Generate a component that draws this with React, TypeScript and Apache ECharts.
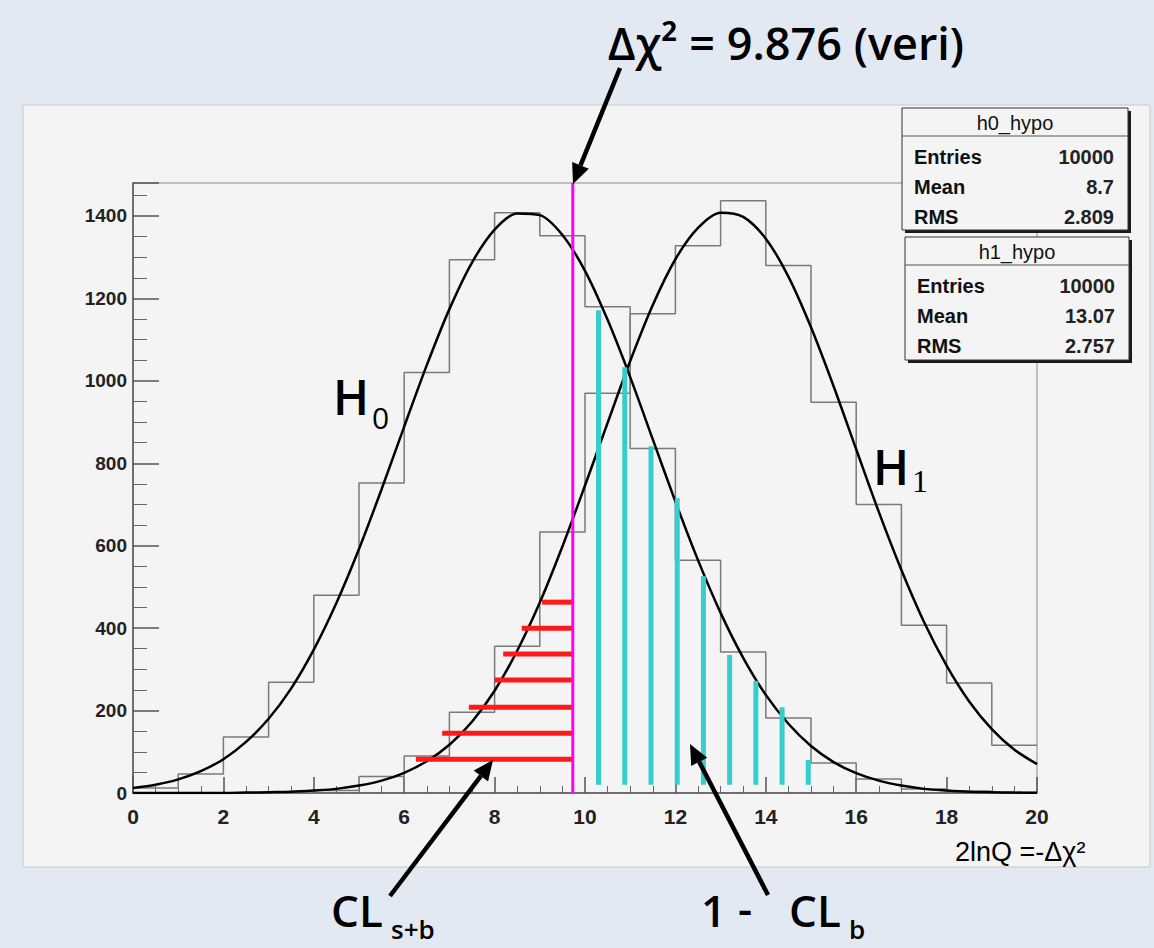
import { useEffect, useRef } from "react";
import * as echarts from "echarts";

// ---- data ----
const BIN_EDGES = [0, 1, 2, 3, 4, 5, 6, 7, 8, 9, 10, 11, 12, 13, 14, 15, 16, 17, 18, 19];
const H0_COUNTS = [12, 46, 136, 269, 480, 752, 1020, 1294, 1408, 1352, 1180, 836, 565, 342, 182, 73, 34, 10, 4, 1];
const H1_COUNTS = [0, 0, 0, 1, 6, 40, 90, 196, 356, 633, 970, 1163, 1328, 1437, 1280, 948, 700, 407, 267, 116];

const FIT_X = [0, 0.5, 1, 1.5, 2, 2.5, 3, 3.5, 4, 4.5, 5, 5.5, 6, 6.5, 7, 7.5, 8, 8.5, 9, 9.5, 10, 10.5, 11, 11.5, 12, 12.5, 13, 13.5, 14, 14.5, 15, 15.5, 16, 16.5, 17, 17.5, 18, 18.5, 19, 19.5, 20];
const H0_FIT = [12, 20, 33, 53, 82, 124, 180, 254, 348, 461, 592, 737, 889, 1038, 1174, 1287, 1367, 1406, 1402, 1354, 1267, 1148, 1009, 858, 707, 565, 437, 328, 238, 168, 114, 75, 48, 30, 18, 10, 6, 3, 2, 1, 0.5];
const H1_FIT = [0, 0, 0, 0, 0, 1, 2, 3, 6, 10, 18, 30, 49, 77, 117, 173, 248, 345, 462, 598, 746, 898, 1048, 1184, 1295, 1371, 1408, 1398, 1345, 1253, 1130, 987, 834, 682, 541, 415, 309, 222, 155, 105, 70];

const OBSERVED_X = 9.73; // magenta line
const CYAN_X = [10.3, 10.88, 11.46, 12.04, 12.62, 13.2, 13.78, 14.36, 14.94];
const CYAN_TOP = [1171, 1033, 841, 715, 526, 335, 272, 208, 80];
const CYAN_BASE = 20;
const RED_LEFT = [6.26, 6.84, 7.43, 8.0, 8.19, 8.6, 9.05];
const RED_Y = [82, 145, 208, 274, 337, 400, 463];

const X_MIN = 0, X_MAX = 20, X_STEP = 2;
const Y_MIN = 0, Y_MAX = 1480, Y_STEP = 200;

const STATS = [
  { name: "h0_hypo", rows: [["Entries", "10000"], ["Mean", "8.7"], ["RMS", "2.809"]] },
  { name: "h1_hypo", rows: [["Entries", "10000"], ["Mean", "13.07"], ["RMS", "2.757"]] },
];

// ---- layout ----
const GRID = { left: 133, top: 183, width: 904, height: 610 };
const ANN_FONT = "'Open Sans', 'DejaVu Sans', sans-serif";
const ROOT_FONT = "'Liberation Sans', Arial, sans-serif";

function histData(counts: number[]) {
  const d = BIN_EDGES.map((e, i) => [e, counts[i]]);
  d.push([X_MAX, counts[counts.length - 1]]);
  return d;
}

function arrow(x1: number, y1: number, x2: number, y2: number, head = 20, half = 9) {
  const dx = x2 - x1, dy = y2 - y1;
  const len = Math.hypot(dx, dy);
  const ux = dx / len, uy = dy / len;
  const bx = x2 - ux * head, by = y2 - uy * head;
  const px = -uy, py = ux;
  return [
    { type: "line", z: 100, shape: { x1, y1, x2: bx, y2: by }, style: { stroke: "#000", lineWidth: 4.5 } },
    {
      type: "polygon", z: 100,
      shape: { points: [[x2, y2], [bx + px * half, by + py * half], [bx - px * half, by - py * half]] },
      style: { fill: "#000" },
    },
  ];
}

function statsBox(x: number, y: number, w: number, h: number, box: typeof STATS[0]) {
  const els: any[] = [];
  els.push({ type: "rect", z: 99, shape: { x: x + 3, y: y + 3, width: w, height: h }, style: { fill: "#1a1a1a" } });
  els.push({ type: "rect", z: 100, shape: { x, y, width: w, height: h }, style: { fill: "#f4f4f4", stroke: "#333", lineWidth: 1 } });
  els.push({ type: "line", z: 100, shape: { x1: x, y1: y + 28, x2: x + w, y2: y + 28 }, style: { stroke: "#555", lineWidth: 1 } });
  els.push({
    type: "text", z: 101,
    style: { x: x + w / 2, y: y + 15, text: box.name, fontFamily: ROOT_FONT, fontSize: 20, fill: "#111", align: "center", verticalAlign: "middle" },
  });
  box.rows.forEach((r, i) => {
    const cy = y + 49 + i * 30;
    els.push({ type: "text", z: 101, style: { x: x + 12, y: cy, text: r[0], fontFamily: ROOT_FONT, fontWeight: "bold", fontSize: 20, fill: "#111", align: "left", verticalAlign: "middle" } });
    els.push({ type: "text", z: 101, style: { x: x + w - 14, y: cy, text: r[1], fontFamily: ROOT_FONT, fontWeight: "bold", fontSize: 20, fill: "#222", align: "right", verticalAlign: "middle" } });
  });
  return els;
}

function segmentSeries(name: string, data: number[][], color: string, width: number, seg: (v: number[]) => number[][]) {
  return {
    type: "custom",
    name,
    z: 5,
    data,
    renderItem: (_p: any, api: any) => {
      const v = [api.value(0), api.value(1)];
      const [a, b] = seg(v);
      const p1 = api.coord(a);
      const p2 = api.coord(b);
      return {
        type: "line",
        shape: { x1: p1[0], y1: p1[1], x2: p2[0], y2: p2[1] },
        style: { stroke: color, lineWidth: width },
      };
    },
  };
}

function annText(x: number, y: number, text: string, size: number, weight: any = 600, family = ANN_FONT) {
  return { type: "text", z: 100, style: { x, y, text, fontFamily: family, fontWeight: weight, fontSize: size, fill: "#000", align: "left", verticalAlign: "middle" } };
}

export default function App() {
  const ref = useRef<HTMLDivElement>(null);
  useEffect(() => {
    const chart = echarts.init(ref.current!, null, { renderer: "svg" });

    const graphic: any[] = [
      { type: "rect", z: -20, shape: { x: 0, y: 0, width: 1154, height: 948 }, style: { fill: "#e3e9f3" } },
      { type: "rect", z: -10, shape: { x: 23, y: 105, width: 1127, height: 762 }, style: { fill: "#f4f4f4", stroke: "#c8c8c8", lineWidth: 1 } },
      ...statsBox(902, 108, 226, 122, STATS[0]),
      ...statsBox(905, 237, 224, 123, STATS[1]),
      ...arrow(620, 68, 573, 184),
      ...arrow(390, 896, 493, 760),
      ...arrow(768, 895, 690, 744),
      { type: "text", z: 100, style: { x: 786, y: 42, text: "Δχ² = 9.876 (veri)", fontFamily: ANN_FONT, fontWeight: 600, fontSize: 45, fill: "#000", align: "center", verticalAlign: "middle" } },
      annText(333, 396, "H", 48),
      annText(372, 417, "0", 30, 500),
      annText(873, 466, "H", 48),
      annText(912, 481, "1", 32, "normal", "'Liberation Serif', serif"),
      annText(331, 910, "CL", 44),
      annText(391, 929, "s+b", 26),
      annText(701, 910, "1", 44),
      annText(738, 908, "-", 44),
      annText(789, 910, "CL", 44),
      annText(849, 929, "b", 26),
      annText(955, 852, "2lnQ =-Δχ²", 27, "normal", ROOT_FONT),
    ];

    const axisCommon = {
      axisLine: { show: true, lineStyle: { color: "#555", width: 1.5 } },
      splitLine: { show: false },
    };

    chart.setOption({
      animation: false,
      backgroundColor: "transparent",
      grid: { ...GRID, show: true, borderColor: "#8a8a8a", borderWidth: 1, backgroundColor: "transparent" },
      xAxis: {
        type: "value", min: X_MIN, max: X_MAX, interval: X_STEP,
        ...axisCommon,
        axisTick: { show: true, inside: true, length: 16, lineStyle: { color: "#555", width: 1.5 } },
        minorTick: { show: true, splitNumber: 4, length: 7, lineStyle: { color: "#666", width: 1 } },
        axisLabel: { margin: 13, fontFamily: ROOT_FONT, fontWeight: "bold", fontSize: 21, color: "#222" },
      },
      yAxis: {
        type: "value", min: Y_MIN, max: Y_MAX, interval: Y_STEP,
        ...axisCommon,
        axisTick: { show: true, inside: true, length: 26, lineStyle: { color: "#555", width: 1.5 } },
        minorTick: { show: true, splitNumber: 4, length: 14, lineStyle: { color: "#666", width: 1 } },
        axisLabel: {
          margin: 6, fontFamily: ROOT_FONT, fontWeight: "bold", fontSize: 19, color: "#222",
          formatter: (v: number) => (v % Y_STEP === 0 ? String(v) : ""),
        },
      },
      graphic,
      series: [
        { type: "line", name: "h0_hypo", step: "end", data: histData(H0_COUNTS), symbol: "none", z: 2, lineStyle: { color: "#7a7a7a", width: 1.5 } },
        { type: "line", name: "h1_hypo", step: "end", data: histData(H1_COUNTS), symbol: "none", z: 2, lineStyle: { color: "#7a7a7a", width: 1.5 } },
        { type: "line", name: "H0 fit", data: FIT_X.map((x, i) => [x, H0_FIT[i]]), smooth: 0.3, symbol: "none", z: 4, lineStyle: { color: "#000", width: 2.5 } },
        { type: "line", name: "H1 fit", data: FIT_X.map((x, i) => [x, H1_FIT[i]]), smooth: 0.3, symbol: "none", z: 4, lineStyle: { color: "#000", width: 2.5 } },
        segmentSeries("1-CLb", CYAN_X.map((x, i) => [x, CYAN_TOP[i]]), "#35cdcd", 5, (v) => [[v[0], CYAN_BASE], [v[0], v[1]]]),
        segmentSeries("CLs+b", RED_LEFT.map((x, i) => [x, RED_Y[i]]), "#ff1a1a", 5, (v) => [[v[0], v[1]], [OBSERVED_X, v[1]]]),
        segmentSeries("observed", [[OBSERVED_X, Y_MAX]], "#ff00ff", 3, (v) => [[v[0], Y_MIN], [v[0], v[1]]]),
      ],
    });
    return () => chart.dispose();
  }, []);
  return <div ref={ref} style={{ position: "absolute", left: 0, top: 0, width: 1154, height: 948 }} />;
}
